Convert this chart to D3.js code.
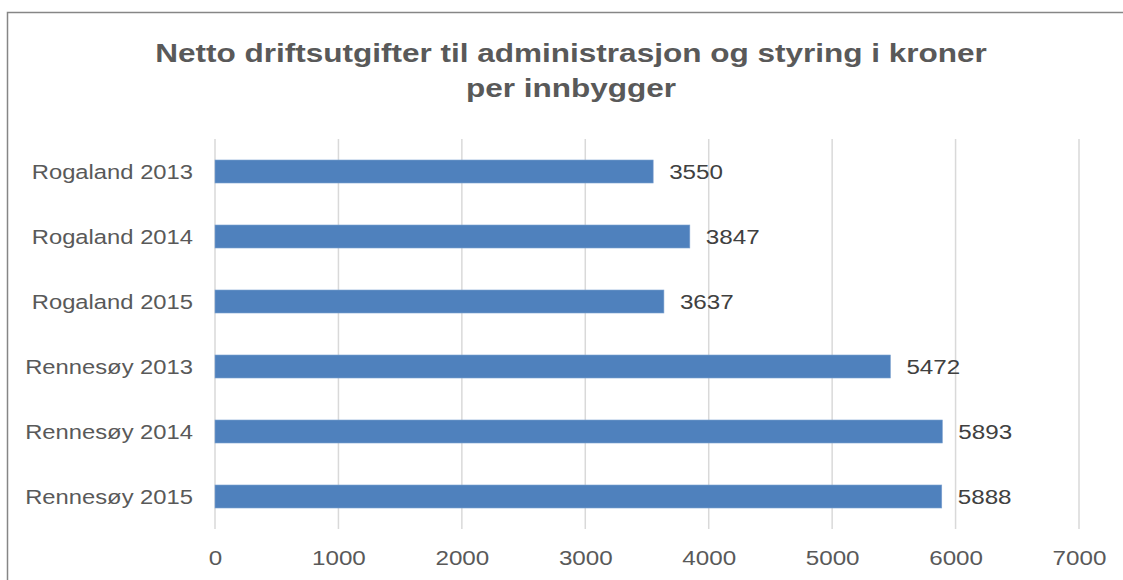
<!DOCTYPE html>
<html>
<head>
<meta charset="utf-8">
<script src="https://cdn.jsdelivr.net/npm/d3@7"></script>
<style>
  html, body { margin: 0; padding: 0; background: #fff; }
  svg { display: block; font-family: "Liberation Sans", Arial, sans-serif; }
</style>
</head>
<body>
<svg id="chart" width="1123" height="580"></svg>
<script>
// Net operating expenses for administration, NOK per inhabitant
const titleLines = ["Netto driftsutgifter til administrasjon og styring i kroner", "per innbygger"];
const categories = ["Rogaland 2013", "Rogaland 2014", "Rogaland 2015", "Rennesøy 2013", "Rennesøy 2014", "Rennesøy 2015"];
const values = [3550, 3847, 3637, 5472, 5893, 5888];
const xTicks = [0, 1000, 2000, 3000, 4000, 5000, 6000, 7000];

const svg = d3.select("#chart");
const W = 1123, H = 580;
const plot = { left: 215, right: 1079, top: 139, bottom: 529 };
// Text in this chart is set slightly wide
const stretch = 1.18;

// Outer frame of the chart area
svg.append("rect")
  .attr("x", 7.5).attr("y", 12.5)
  .attr("width", W + 20).attr("height", H + 20)
  .attr("fill", "#fff")
  .attr("stroke", "#868686").attr("stroke-width", 1.5);

// Title
titleLines.forEach((t, i) => {
  svg.append("text")
    .attr("transform", `translate(571,${62 + i * 35}) scale(1.19,1)`)
    .attr("text-anchor", "middle")
    .attr("fill", "#595959")
    .attr("font-size", 26.5)
    .attr("font-weight", "bold")
    .text(t);
});

const x = d3.scaleLinear().domain([0, 7000]).range([plot.left, plot.right]);
const y = d3.scaleBand().domain(categories).range([plot.top, plot.bottom]).paddingInner(0.646).paddingOuter(0.323);

// Vertical gridlines
svg.append("g")
  .selectAll("line")
  .data(xTicks)
  .join("line")
  .attr("x1", d => x(d)).attr("x2", d => x(d))
  .attr("y1", plot.top).attr("y2", plot.bottom)
  .attr("stroke", "#d9d9d9").attr("stroke-width", 1.5);

// X axis tick labels
const xAxis = d3.axisBottom(x).tickValues(xTicks).tickSize(0).tickPadding(0).tickFormat(d3.format("d"));
const gx = svg.append("g").attr("transform", `translate(0,${plot.bottom})`).call(xAxis);
gx.select(".domain").remove();
gx.selectAll("text")
  .attr("y", 36)
  .attr("dy", null)
  .attr("transform", `scale(${stretch},1)`)
  .attr("fill", "#595959")
  .attr("font-size", 20.5)
  .attr("font-family", "Liberation Sans, Arial, sans-serif");

// Y axis category labels
const yAxis = d3.axisLeft(y).tickSize(0).tickPadding(0);
const gy = svg.append("g").attr("transform", `translate(193,0)`).call(yAxis);
gy.select(".domain").remove();
gy.selectAll("text")
  .attr("x", 0)
  .attr("dy", "0.36em")
  .attr("transform", `scale(1.16,1)`)
  .attr("fill", "#595959")
  .attr("font-size", 20.5)
  .attr("font-family", "Liberation Sans, Arial, sans-serif");

// Bars
const rows = categories.map((c, i) => ({ c, v: values[i] }));
svg.append("g")
  .selectAll("rect")
  .data(rows)
  .join("rect")
  .attr("x", x(0))
  .attr("y", d => y(d.c))
  .attr("width", d => x(d.v) - x(0))
  .attr("height", y.bandwidth())
  .attr("fill", "#4f81bd")
  .attr("stroke", "#7ea2d0").attr("stroke-width", 0.6);

// Value labels
svg.append("g")
  .selectAll("text")
  .data(rows)
  .join("text")
  .attr("transform", d => `translate(${x(d.v) + 16},${y(d.c) + y.bandwidth() / 2}) scale(${stretch},1)`)
  .attr("dy", "0.36em")
  .attr("fill", "#404040")
  .attr("font-size", 20.5)
  .text(d => d.v);
</script>
</body>
</html>
